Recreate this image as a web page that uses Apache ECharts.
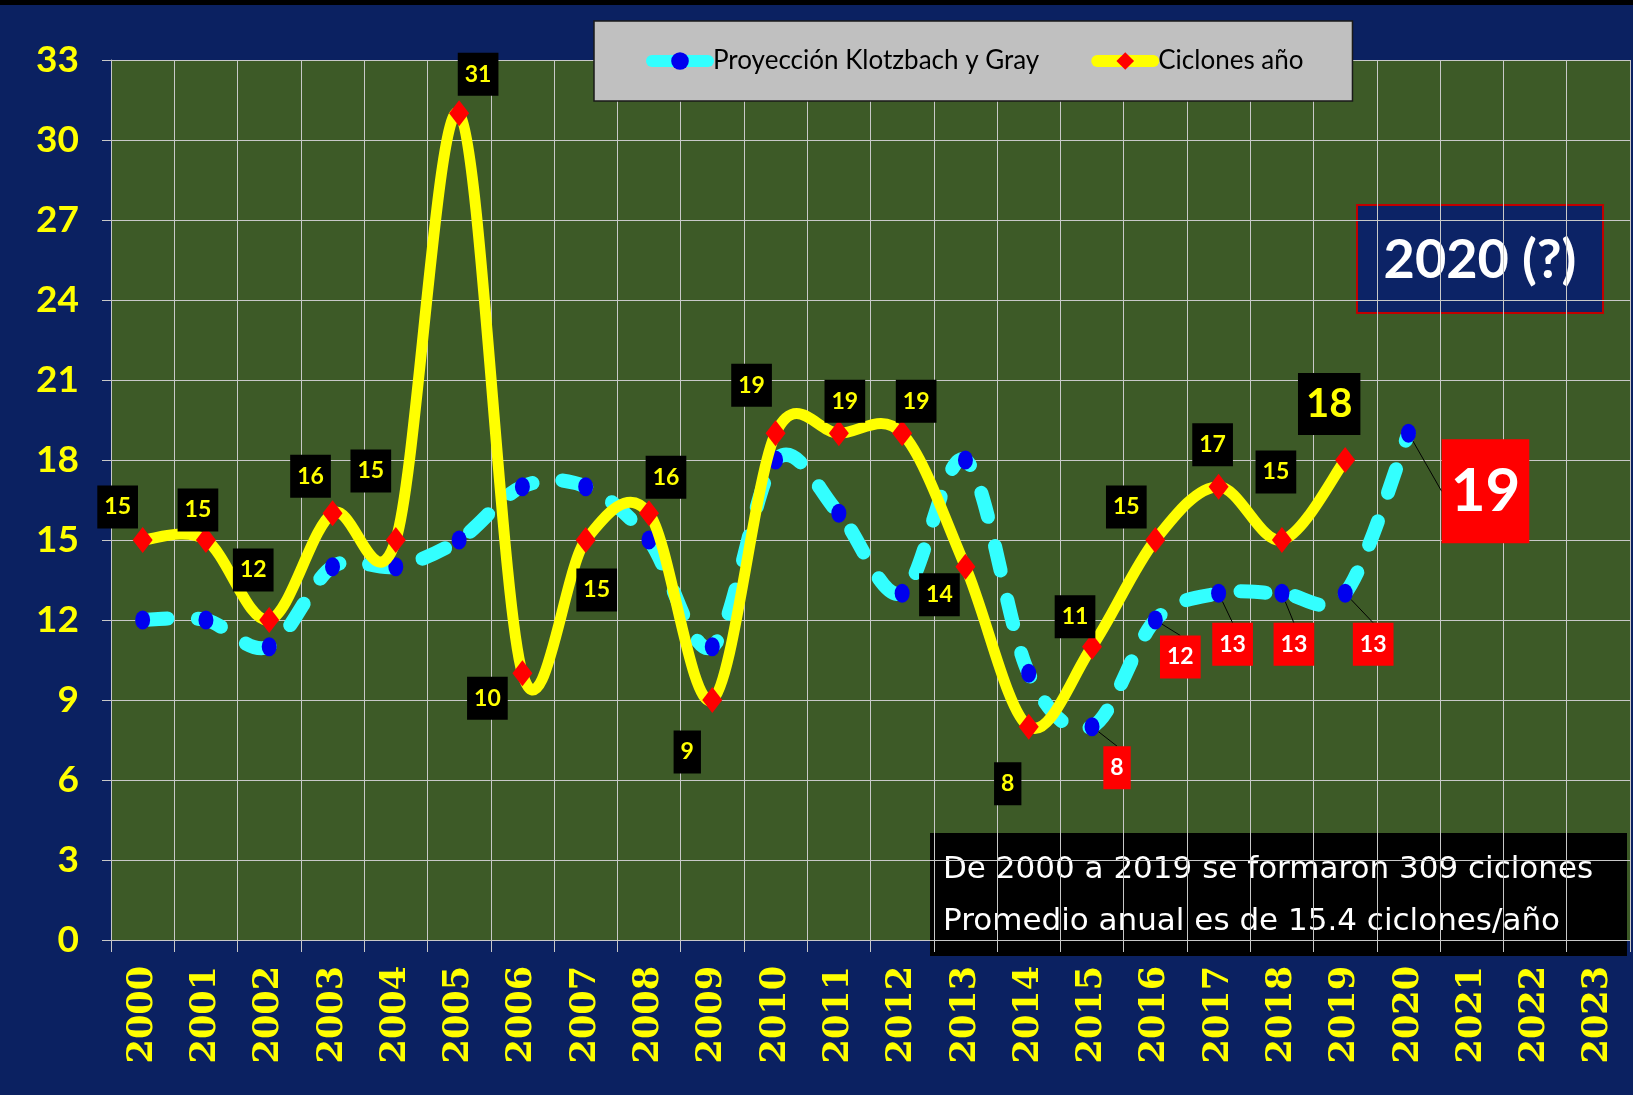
<!DOCTYPE html>
<html>
<head>
<meta charset="utf-8">
<script src="https://cdn.jsdelivr.net/npm/echarts@6/dist/echarts.min.js"></script>
<style>
html,body{margin:0;padding:0;background:#0b2161;}
#chart{width:1633px;height:1095px;}
</style>
</head>
<body>
<div id="chart"></div>
<script>
// ---- data ----
var years = ['2000','2001','2002','2003','2004','2005','2006','2007','2008','2009','2010','2011','2012','2013','2014','2015','2016','2017','2018','2019','2020','2021','2022','2023'];
var ciclones = [15,15,12,16,15,31,10,15,16,9,19,19,19,14,8,11,15,17,15,18];
var proyeccion = [12,12,11,14,14,15,17,17,15,11,18,16,13,18,10,8,12,13,13,13,19];
var yTicks = {min:0, max:33, interval:3};
var legendNames = ['Proyección Klotzbach y Gray','Ciclones año'];
var boxTitle = '2020 (?)';
var noteLines = ['De 2000 a 2019 se formaron 309 ciclones','Promedio anual es de 15.4 ciclones/año'];

// ---- label placement (pixels, styling only) ----
var yellowOffsets = [[-25,-33],[-8,-30],[-16,-50],[-22,-37],[-25,-69],[19,-39],[-35,25],[11,50],[17,-36],[-25,52],[-24,-48],[6,-32],[14,-32],[-26,28],[-21,57],[-17,-30],[-29,-33],[-6,-42],[-6,-68],[-16,-56]];
var cyanOffsets = {15:[25,41],16:[25,37],17:[14,51],18:[12,51],19:[28,51],20:[77,58]};

var SANS = 'Lato,"Open Sans",sans-serif';
var YELLOW = '#ffff00', CYAN = '#33ffff';

var yellowData = ciclones.map(function(v,i){
  var item = {value:v};
  if (i === 19) item.label = {fontSize:40, padding:[12,8,10,8]};
  return item;
});
var cyanData = proyeccion.map(function(v,i){
  var item = {value:v, label:{show: i >= 15}};
  if (i === 20) item.label = {show:true, fontSize:60, padding:[24,9,20,9]};
  return item;
});

// smooth curve (Catmull-Rom style, like the spreadsheet's smoothed line) through the axis coordinates
function smoothPath(values, api){
  var p = values.map(function(v,i){ return api.coord([i, v]); });
  var d = 'M' + p[0][0] + ' ' + p[0][1];
  for (var i = 0; i < p.length - 1; i++){
    var p0 = p[Math.max(i-1,0)], p1 = p[i], p2 = p[i+1], p3 = p[Math.min(i+2,p.length-1)];
    var c1x = p1[0] + (p2[0]-p0[0])/6, c1y = p1[1] + (p2[1]-p0[1])/6;
    var c2x = p2[0] - (p3[0]-p1[0])/6, c2y = p2[1] - (p3[1]-p1[1])/6;
    d += ' C' + c1x + ' ' + c1y + ' ' + c2x + ' ' + c2y + ' ' + p2[0] + ' ' + p2[1];
  }
  return d;
}
function curveSeries(values, style, z){
  return {
    type:'custom', silent:true, z:z, clip:false,
    data: values.map(function(v,i){ return [i, v]; }),
    encode:{x:0, y:1},
    renderItem:function(params, api){
      if (params.dataIndex !== 0) return null;
      return {type:'path', shape:{pathData: smoothPath(values, api)}, style: style};
    }
  };
}

var chart = echarts.init(document.getElementById('chart'));
chart.setOption({
  backgroundColor:'#0b2161',
  animation:false,
  grid:{left:111, right:3, top:60, bottom:155, show:true, backgroundColor:'#3d5a27', borderWidth:0},
  legend:{
    left:594, top:21,
    backgroundColor:'#c0c0c0', borderColor:'#1a1a1a', borderWidth:1.5,
    padding:[27,49,27,52], itemGap:52, itemWidth:56, itemHeight:22,
    textStyle:{fontSize:26, color:'#000', fontFamily:SANS},
    data:[
      {name:legendNames[0], lineStyle:{color:CYAN, width:12, opacity:1, type:'solid', cap:'round'}},
      {name:legendNames[1], lineStyle:{color:YELLOW, width:12, opacity:1, type:'solid', cap:'round'}}
    ]
  },
  xAxis:{
    type:'category', data:years, boundaryGap:true,
    axisLine:{lineStyle:{color:'#c8c8c8', width:1}},
    axisTick:{show:true, length:12, lineStyle:{color:'#c8c8c8'}},
    splitLine:{show:true, lineStyle:{color:'#c8c8c8', width:1}},
    axisLabel:{rotate:90, interval:0, margin:26, color:YELLOW, fontSize:35, fontWeight:'bold', fontFamily:'"DejaVu Serif",serif'}
  },
  yAxis:{
    type:'value', min:yTicks.min, max:yTicks.max, interval:yTicks.interval,
    axisLine:{show:true, lineStyle:{color:'#c8c8c8', width:1}},
    axisTick:{show:true, length:9, lineStyle:{color:'#c8c8c8'}},
    splitLine:{show:true, lineStyle:{color:'#c8c8c8', width:1}},
    axisLabel:{margin:32, color:YELLOW, fontSize:37, fontWeight:'bold', fontFamily:SANS}
  },
  series:[
    curveSeries(proyeccion, {fill:null, stroke:CYAN, lineWidth:14, lineDash:[25,30], lineCap:'round'}, 2),
    {
      name:legendNames[0], type:'line', data:cyanData,
      symbol:'circle', symbolSize:[15,19],
      itemStyle:{color:'#0000ee'},
      lineStyle:{color:CYAN, width:12, opacity:0},
      label:{show:true, position:'inside', formatter:'{c}', color:'#fff', backgroundColor:'#ff0000',
             fontFamily:SANS, fontWeight:'bold', fontSize:23, padding:[11,7,9,7]},
      labelLine:{show:true, lineStyle:{color:'#000', width:1}},
      labelLayout:function(p){ var o = cyanOffsets[p.dataIndex]; return o ? {dx:o[0], dy:o[1]} : {}; },
      z:3
    },
    curveSeries(ciclones, {fill:null, stroke:YELLOW, lineWidth:11, lineCap:'round', lineJoin:'round'}, 4),
    {
      name:legendNames[1], type:'line', data:yellowData,
      symbol:'diamond', symbolSize:[20,26],
      itemStyle:{color:'#ff0000'},
      lineStyle:{color:YELLOW, width:12, opacity:0},
      label:{show:true, position:'inside', formatter:'{c}', color:YELLOW, backgroundColor:'#000',
             fontFamily:SANS, fontWeight:'bold', fontSize:23, padding:[11,7,9,7]},
      labelLayout:function(p){ var o = yellowOffsets[p.dataIndex]; return o ? {dx:o[0], dy:o[1]} : {}; },
      z:5
    }
  ],
  graphic:[
    {type:'rect', left:0, top:0, z:100, shape:{width:1633, height:5}, style:{fill:'#000'}},
    {type:'group', left:1356, top:204, z:100, children:[
      {type:'rect', shape:{x:0, y:0, width:246, height:108}, style:{fill:'#0c2366', stroke:'#c00000', lineWidth:2}},
      {type:'text', x:123, y:56, style:{text:boxTitle, fill:'#fff', fontSize:54, fontWeight:'bold', fontFamily:SANS, align:'center', verticalAlign:'middle'}}
    ]},
    {type:'group', left:930, top:833, z:100, children:[
      {type:'rect', shape:{x:0, y:0, width:697, height:123}, style:{fill:'#000'}},
      {type:'text', x:13, y:37, style:{text:noteLines[0], fill:'#fff', fontSize:31, fontFamily:'"Comic Sans MS","DejaVu Sans",sans-serif', verticalAlign:'middle'}},
      {type:'text', x:13, y:89, style:{text:noteLines[1], fill:'#fff', fontSize:31, fontFamily:'"Comic Sans MS","DejaVu Sans",sans-serif', verticalAlign:'middle'}}
    ]}
  ]
});
</script>
</body>
</html>
